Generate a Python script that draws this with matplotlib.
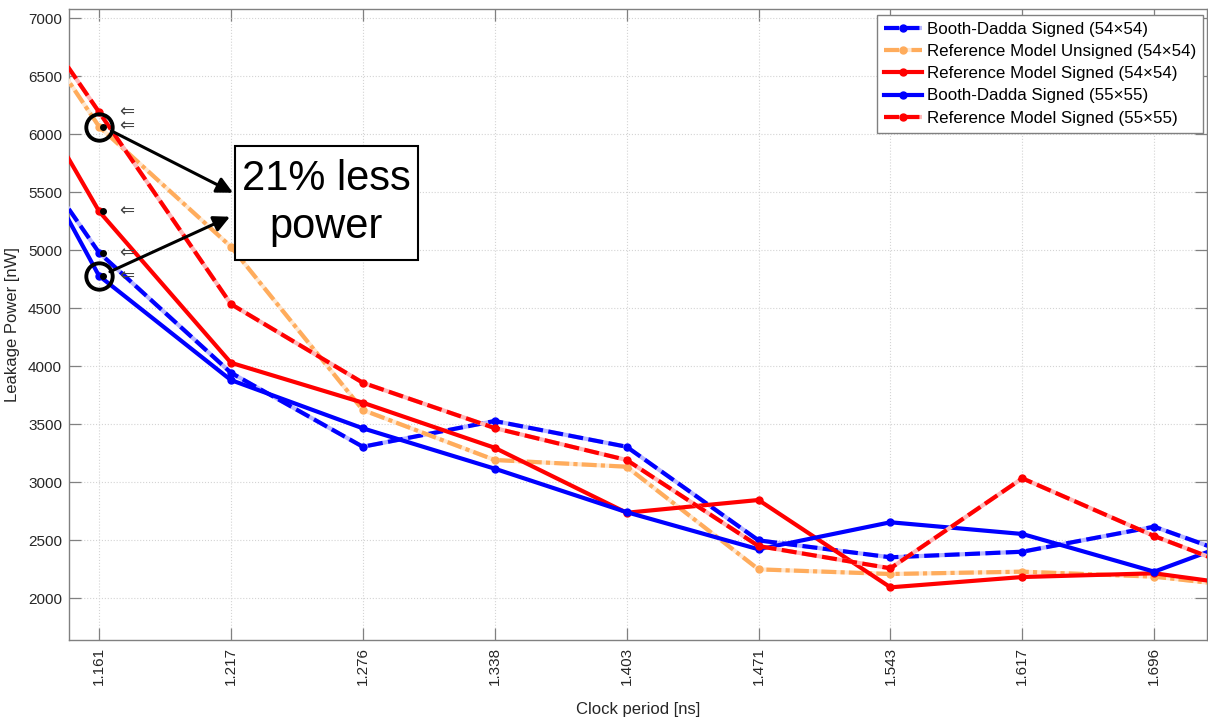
import numpy as np
import matplotlib
matplotlib.use("Agg")
import matplotlib.pyplot as plt
from matplotlib.colors import to_rgb
from matplotlib.patches import Rectangle
from matplotlib.transforms import offset_copy

plt.rcParams['font.family'] = ['Liberation Sans', 'DejaVu Sans']

# Clock periods (ns); the first and last points lie just outside the visible range
clock_period_ns = ['1.107', '1.161', '1.217', '1.276', '1.338', '1.403',
                   '1.471', '1.543', '1.617', '1.696', '1.778']

# Leakage power (nW)
booth_dadda_s54 = [6618, 4978, 3942, 3304, 3526, 3304, 2497, 2351, 2399, 2615, 2208]
ref_unsigned_54 = [7762, 6065, 5029, 3621, 3190, 3132, 2247, 2207, 2227, 2184, 2057]
ref_signed_54 = [7301, 5335, 4028, 3684, 3295, 2735, 2845, 2092, 2181, 2213, 2059]
booth_dadda_s55 = [6867, 4778, 3879, 3463, 3115, 2740, 2420, 2653, 2552, 2227, 2647]
ref_signed_55 = [7843, 6190, 4534, 3856, 3465, 3190, 2448, 2256, 3032, 2534, 2100]

labels = ['Booth-Dadda Signed (54\u00d754)',
          'Reference Model Unsigned (54\u00d754)',
          'Reference Model Signed (54\u00d754)',
          'Booth-Dadda Signed (55\u00d755)',
          'Reference Model Signed (55\u00d755)']

x = np.arange(len(clock_period_ns)) - 1

W, H = 1208, 720
fig = plt.figure(figsize=(W / 100, H / 100), dpi=100)
ax = fig.add_axes([69 / W, 1 - 640 / H, (1207 - 69) / W, (640 - 9) / H])


def lighten(c, f):
    r, g, b = to_rgb(c)
    return (r + (1 - r) * f, g + (1 - g) * f, b + (1 - b) * f)


blue, red, orange = '#0000ff', '#ff0000', '#ffac5c'
series = [
    (booth_dadda_s54, blue, (3.6, 1.3)),
    (ref_unsigned_54, orange, (3.6, 1.0, 1.0, 1.0)),
    (ref_signed_54, red, None),
    (booth_dadda_s55, blue, None),
    (ref_signed_55, red, (3.6, 1.3)),
]

handles = []
for i, (vals, color, dashes) in enumerate(series):
    z = 3 + i * 0.2
    if dashes is not None:
        halo, = ax.plot(x, vals, color=lighten(color, 0.72), lw=3,
                        solid_capstyle='butt', zorder=z)
        ln, = ax.plot(x, vals, color=color, lw=3, dashes=dashes,
                      dash_capstyle='butt', marker='o', ms=5, zorder=z + 0.1)
        handles.append((halo, ln))
    else:
        ln, = ax.plot(x, vals, color=color, lw=3, marker='o', ms=5, zorder=z + 0.1)
        handles.append(ln)

ax.set_xticks(x)
ax.set_xticklabels(clock_period_ns, rotation=90)
ax.set_yticks(np.arange(2000, 7001, 500))
ax.set_xlim(-0.2274, 8.400)
ax.set_ylim(1638, 7078)

ax.grid(True, color='#d4d4d4', lw=0.8, ls=':')
ax.set_axisbelow(True)
for s in ax.spines.values():
    s.set_color('#808080')
    s.set_linewidth(1.0)
ax.tick_params(direction='in', length=8.6, width=0.9, color='#808080',
               top=True, right=True, labelsize=11, labelcolor='#262626', pad=5)

ax.set_xlabel('Clock period [ns]', fontsize=12, labelpad=12, color='#262626')
ax.set_ylabel('Leakage Power [nW]', fontsize=12, labelpad=6, color='#262626')

# data tips and pointer glyphs at the fastest clock period
first = [s[0][1] for s in series]
dot_tr = offset_copy(ax.transData, fig=fig, x=4, y=0, units='dots')
for v in [ref_unsigned_54[1], ref_signed_54[1], booth_dadda_s54[1], booth_dadda_s55[1]]:
    ax.plot([0], [v], 'o', color='black', ms=4, transform=dot_tr, zorder=8)
for v in first:
    ax.annotate('\u21d0', xy=(0, v), xytext=(28, 0), textcoords='offset pixels',
                ha='center', va='center', fontsize=13, color='#444444',
                family='DejaVu Sans', zorder=8)

# highlight circles
for v in [ref_unsigned_54[1], booth_dadda_s55[1]]:
    ax.plot([0], [v], 'o', mfc='none', mec='black', ms=19, mew=2.8, zorder=9)

# arrows into the callout box
arrow_kw = dict(arrowstyle='-|>', color='black', lw=2.2, mutation_scale=24,
                shrinkA=0, shrinkB=0)
ax.annotate('', xy=(1.016, 5494), xytext=(0.096, 6026), arrowprops=arrow_kw, zorder=9)
ax.annotate('', xy=(0.993, 5287), xytext=(0.083, 4813), arrowprops=arrow_kw, zorder=9)

# callout box
box_x0, box_x1, box_y0, box_y1 = 1.031, 2.418, 4914, 5897
ax.add_patch(Rectangle((box_x0, box_y0), box_x1 - box_x0, box_y1 - box_y0,
                       fc='white', ec='black', lw=1.5, zorder=10))
ax.text((box_x0 + box_x1) / 2, (box_y0 + box_y1) / 2, '21% less\npower',
        fontsize=30, ha='center', va='center', linespacing=1.25, zorder=11)

leg = ax.legend(handles, labels, loc='upper right',
                bbox_to_anchor=(1203 / W, 1 - 15 / H), bbox_transform=fig.transFigure,
                fontsize=12.2, handlelength=2.2, fancybox=False, edgecolor='#808080',
                framealpha=1, borderpad=0.42, labelspacing=0.42, handletextpad=0.3,
                borderaxespad=0)
leg.get_frame().set_linewidth(1.0)
leg.set_zorder(20)

fig.savefig('out.png', dpi=100)
